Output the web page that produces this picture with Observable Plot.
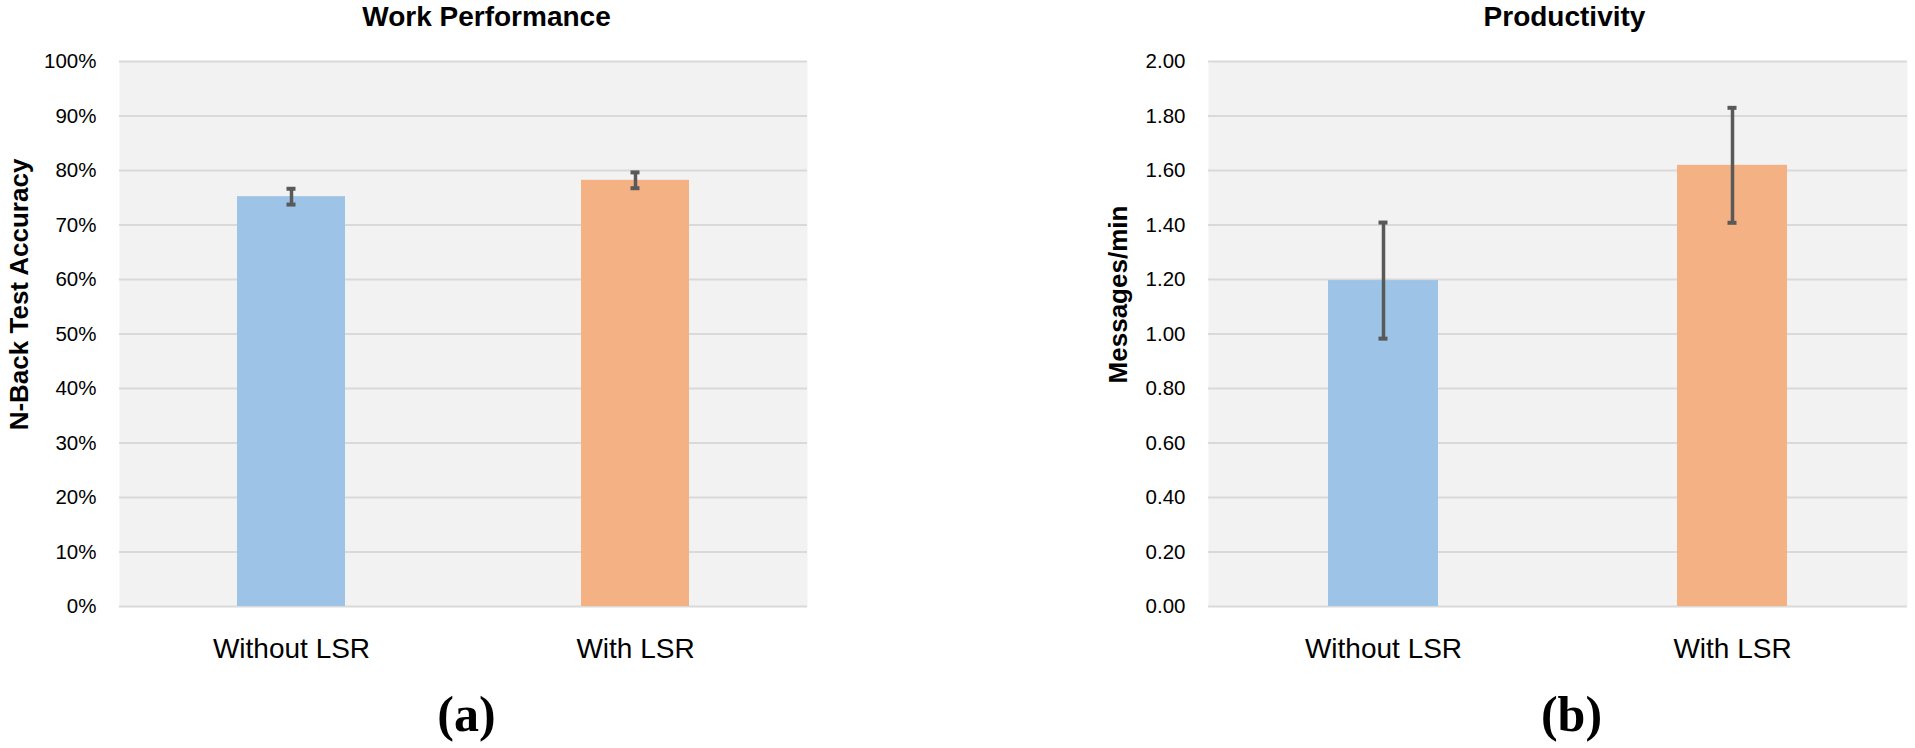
<!DOCTYPE html>
<html>
<head>
<meta charset="utf-8">
<script src="https://cdn.jsdelivr.net/npm/d3@7"></script>
<script src="https://cdn.jsdelivr.net/npm/@observablehq/plot@0.6"></script>
<style>
  html, body { margin: 0; padding: 0; background: #fff; }
  #wrap { position: relative; width: 1915px; height: 748px; overflow: hidden; }
  #left { position: absolute; left: 0; top: 0; }
  #right { position: absolute; left: 957px; top: 0; }
</style>
</head>
<body>
<div id="wrap"><div id="left"></div><div id="right"></div></div>
<script>
// ---- data ----
const categories = ["Without LSR", "With LSR"];
const accuracy = [75.2, 78.2];          // N-Back test accuracy (%)
const accuracyErr = [1.45, 1.45];       // error bar half-length (%)
const messages = [1.196, 1.619];        // messages per minute
const messagesErr = [0.213, 0.211];     // error bar half-length
const accuracyTicks = [0, 10, 20, 30, 40, 50, 60, 70, 80, 90, 100];
const messagesTicks = [0, 0.2, 0.4, 0.6, 0.8, 1.0, 1.2, 1.4, 1.6, 1.8, 2.0];
const barColors = ["#9dc3e6", "#f4b183"];

const SANS = "Liberation Sans, Arial, sans-serif";
const SERIF = "Liberation Serif, Times New Roman, serif";

function panel({values, errs, ticks, domain, fmt, title, ytitle, caption,
                width, marginLeft, marginRight, titleDx, captionDx, ytitleDx, capInset}) {
  const rows = categories.map((c, i) => ({cat: c, v: values[i], lo: values[i] - errs[i], hi: values[i] + errs[i]}));
  return Plot.plot({
    width, height: 748,
    marginTop: 61, marginBottom: 142, marginLeft, marginRight,
    style: {fontFamily: SANS, background: "transparent", overflow: "visible"},
    x: {domain: categories, paddingInner: 0.686, paddingOuter: 0.343, axis: null},
    y: {domain, axis: null},
    color: {domain: categories, range: barColors},
    marks: [
      Plot.frame({fill: "#f2f2f2", stroke: null}),
      Plot.ruleY(ticks, {stroke: "#d9d9d9", strokeWidth: 2}),
      Plot.barY(rows, {x: "cat", y: "v", fill: "cat"}),
      Plot.ruleX(rows, {x: "cat", y1: "lo", y2: "hi", stroke: "#595959", strokeWidth: 3.5}),
      Plot.tickY(rows, {x: "cat", y: "lo", stroke: "#595959", strokeWidth: 4, insetLeft: capInset, insetRight: capInset}),
      Plot.tickY(rows, {x: "cat", y: "hi", stroke: "#595959", strokeWidth: 4, insetLeft: capInset, insetRight: capInset}),
      Plot.axisY(ticks, {tickSize: 0, tickPadding: 23, fontSize: 20.5, tickFormat: fmt, label: null, fill: "#000"}),
      Plot.axisX({tickSize: 0, tickPadding: 32, fontSize: 28, label: null, fill: "#000"}),
      Plot.text([title], {frameAnchor: "top", lineAnchor: "top", dy: -55, dx: titleDx,
        fontSize: 28, fontWeight: "bold", fill: "#000"}),
      Plot.text([ytitle], {frameAnchor: "left", rotate: -90, textAnchor: "middle", lineAnchor: "middle",
        dx: ytitleDx, dy: -39.5, fontSize: 26, fontWeight: "bold", fill: "#000"}),
      Plot.text([caption], {frameAnchor: "bottom", lineAnchor: "top", dy: 89, dx: captionDx,
        fontSize: 50, fontWeight: "bold", fontFamily: SERIF, fill: "#000"})
    ]
  });
}

document.getElementById("left").appendChild(panel({
  values: accuracy, errs: accuracyErr, ticks: accuracyTicks, domain: [0, 100],
  fmt: d => d + "%", title: "Work Performance", ytitle: "N-Back Test Accuracy", caption: "(a)",
  width: 957, marginLeft: 119, marginRight: 150, titleDx: 23, captionDx: 3, ytitleDx: -100, capInset: 49.5
}));

document.getElementById("right").appendChild(panel({
  values: messages, errs: messagesErr, ticks: messagesTicks, domain: [0, 2],
  fmt: d => d.toFixed(2), title: "Productivity", ytitle: "Messages/min", caption: "(b)",
  width: 958, marginLeft: 251, marginRight: 8, titleDx: 6.5, captionDx: 13.5, ytitleDx: -89.5, capInset: 50.5
}));
</script>
</body>
</html>
